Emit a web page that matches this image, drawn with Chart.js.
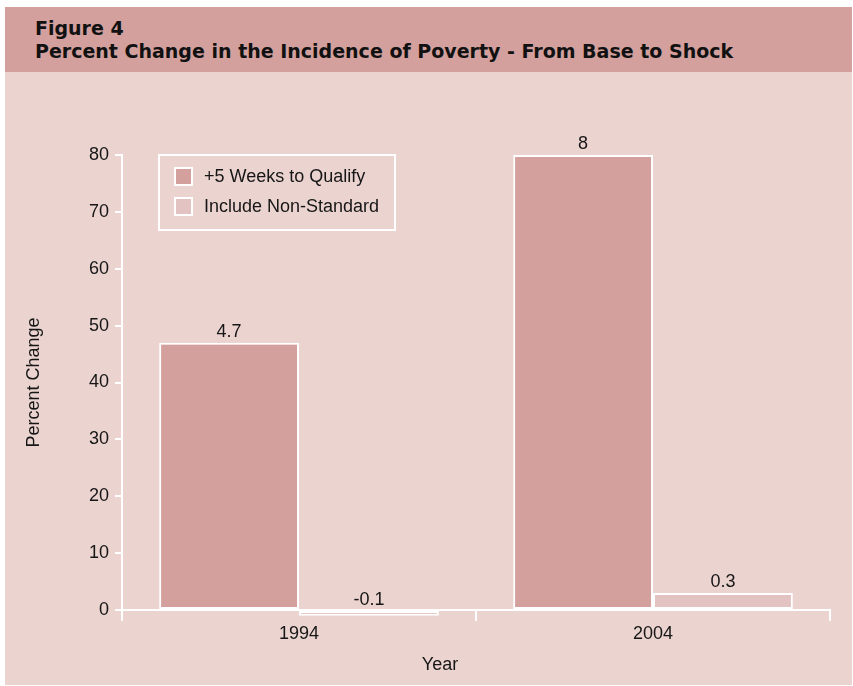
<!DOCTYPE html>
<html>
<head>
<meta charset="utf-8">
<script src="https://cdn.jsdelivr.net/npm/chart.js@4"></script>
<style>
  html, body { margin: 0; padding: 0; background: #fff; }
  #panel {
    position: absolute; left: 5px; top: 7px; width: 847px; height: 678px;
    background: #EBD4D0;
  }
  #header {
    position: absolute; left: 0; top: 0; width: 100%; height: 65px;
    background: #D3A09D;
  }
  #header div {
    position: absolute; left: 30px; top: 10px;
    font-family: "DejaVu Sans", Verdana, sans-serif; font-weight: bold;
    font-size: 19px; line-height: 23px; color: #111;
  }
  #myChart { position: absolute; left: 0; top: 0; }
</style>
</head>
<body>
<div id="panel">
  <div id="header"><div>Figure 4<br>Percent Change in the Incidence of Poverty - From Base to Shock</div></div>
</div>
<canvas id="myChart" width="853" height="686"></canvas>
<script>
const years = ['1994', '2004'];
const seriesNames = ['+5 Weeks to Qualify', 'Include Non-Standard'];
const weeksToQualify = [4.7, 8];
const nonStandard = [-0.1, 0.3];
const yTickLabels = ['0', '10', '20', '30', '40', '50', '60', '70', '80'];

const FONT = '"Liberation Sans", Arial, sans-serif';
const INK = '#161616';
const colors = ['#D3A09D', '#E3C3C1'];

// value labels above each bar, the boxed legend and the x axis title
const extras = {
	id: 'extras',
	afterDatasetsDraw(chart) {
		const ctx = chart.ctx;
		ctx.save();
		ctx.font = '18px ' + FONT;
		ctx.fillStyle = INK;
		ctx.textAlign = 'center';
		ctx.textBaseline = 'alphabetic';
		chart.data.datasets.forEach((ds, i) => {
			chart.getDatasetMeta(i).data.forEach((bar, j) => {
				const top = Math.min(bar.y, bar.base);
				ctx.fillText(String(ds.data[j]), bar.x, top - 6);
			});
		});

		// legend
		const area = chart.chartArea;
		const lx = area.left + 37, ly = area.top;
		ctx.strokeStyle = '#fff';
		ctx.lineWidth = 2;
		ctx.strokeRect(lx, ly, 236, 75);
		ctx.textAlign = 'left';
		ctx.textBaseline = 'middle';
		chart.data.datasets.forEach((ds, i) => {
			const y = ly + 13 + i * 30;
			ctx.fillStyle = ds.backgroundColor;
			ctx.fillRect(lx + 16, y, 17, 17);
			ctx.strokeRect(lx + 16, y, 17, 17);
			ctx.fillStyle = INK;
			ctx.fillText(ds.label, lx + 45, y + 9);
		});

		ctx.textAlign = 'center';
		ctx.fillText('Year', 440, 665);
		ctx.restore();
	}
};

function createChart(){
	var chart = document.getElementById('myChart');

	Chart.defaults.font.family = FONT;
	Chart.defaults.font.size = 18;
	Chart.defaults.color = INK;

	const data = {
		labels: years,
		datasets: [{
			label: seriesNames[0],
			data: weeksToQualify,
			backgroundColor: colors[0],
			borderColor: '#fff',
			borderWidth: 2,
			borderSkipped: false,
			clip: false
		}, {
			label: seriesNames[1],
			data: nonStandard,
			backgroundColor: colors[1],
			borderColor: '#fff',
			borderWidth: 2,
			borderSkipped: false,
			clip: false
		}]
	};
	const config = {
		type: 'bar',
		data: data,
		plugins: [extras],
		options: {
			responsive: false,
			animation: false,
			categoryPercentage: 0.79,
			barPercentage: 1,
			layout: { padding: { left: 0, top: 155, right: 23, bottom: 0 } },
			plugins: {
				legend: { display: false },
				tooltip: { enabled: false }
			},
			scales: {
				x: {
					afterFit(scale) { scale.height = 76; },
					grid: { drawOnChartArea: false, color: '#fff', lineWidth: 2, tickLength: 11, offset: true },
					border: { color: '#fff', width: 2 },
					ticks: { padding: 2 }
				},
				y: {
					min: 0,
					max: 8,
					afterFit(scale) { scale.width = 122; },
					grid: { drawOnChartArea: false, color: '#fff', lineWidth: 2, tickLength: 7 },
					border: { color: '#fff', width: 2 },
					ticks: {
						stepSize: 1,
						padding: 6,
						callback: (v, i) => yTickLabels[i]
					},
					title: { display: true, text: 'Percent Change', padding: { top: 23, bottom: 0 } }
				}
			}
		}
	};

	const myChart = new Chart(chart, config);
}

document.addEventListener("DOMContentLoaded", createChart);
</script>
</body>
</html>
